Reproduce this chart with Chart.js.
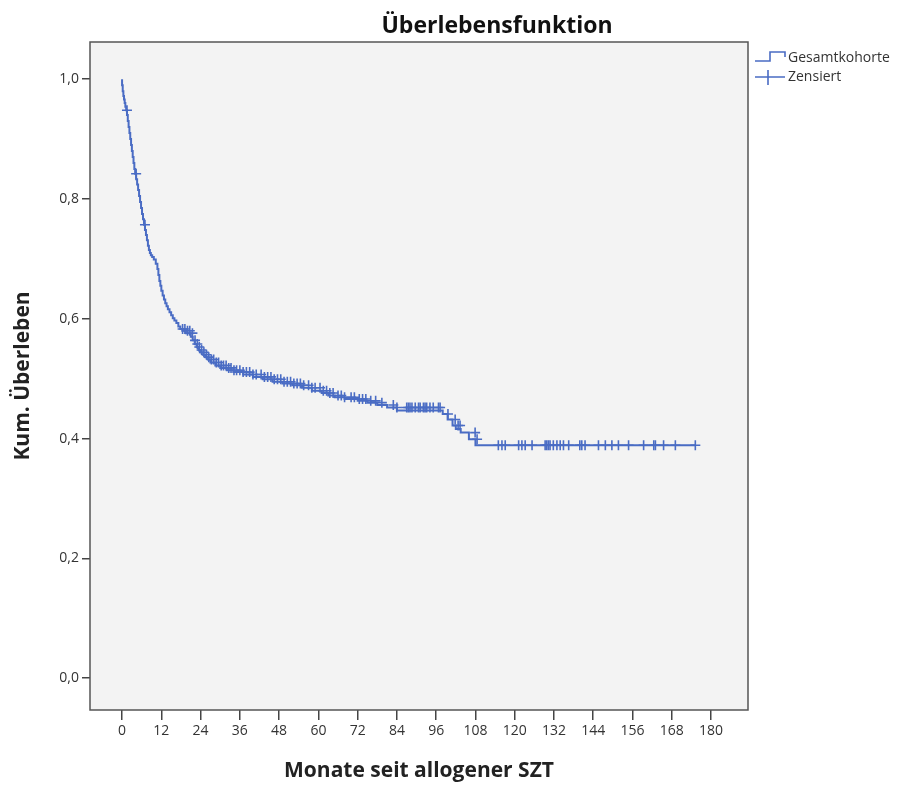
<!DOCTYPE html>
<html>
<head>
<meta charset="utf-8">
<script src="https://cdn.jsdelivr.net/npm/chart.js@4"></script>
<style>
  body { margin: 0; background: #fff; }
</style>
</head>
<body>
<canvas id="km" width="922" height="785"></canvas>
<script>
// Kaplan-Meier: Zeitpunkte (Monate) und Ueberleben nach jedem Schritt
var stepTimes = [0, 0.2, 0.4, 0.6, 0.8, 1.0, 1.25, 1.5, 1.75, 2.0, 2.25, 2.5, 2.75, 3.0, 3.25, 3.5, 3.75,
  4.0, 4.3, 4.6, 4.9, 5.2, 5.5, 5.8, 6.1, 6.4, 6.7, 7.0, 7.3, 7.6, 7.9, 8.2, 8.5, 8.8, 9.2, 9.7, 10.3,
  10.8, 11.1, 11.4, 11.7, 12.0, 12.4, 12.8, 13.2, 13.6, 14.0, 14.5, 15.0, 15.5, 16.0, 16.6, 17.2, 17.8,
  18.4, 19.5, 21.0, 21.6, 22.2, 22.8, 23.4, 24.0, 24.8, 25.5, 26.3, 27.0, 28.5, 30.0, 32.0, 34.0, 37.0,
  40.0, 43.0, 46.0, 49.0, 52.0, 55.0, 58.0, 61.0, 63.0, 65.0, 68.0, 72.0, 75.0, 78.0, 81.0, 84.0, 98.0,
  99.5, 101.0, 102.0, 103.5, 106.0, 108.0, 109.0, 175.2];
var stepSurv = [1.0, 0.99, 0.98, 0.972, 0.966, 0.96, 0.954, 0.948, 0.94, 0.93, 0.92, 0.91, 0.9, 0.89,
  0.88, 0.87, 0.86, 0.85, 0.842, 0.833, 0.824, 0.815, 0.805, 0.795, 0.785, 0.775, 0.766, 0.757, 0.748,
  0.74, 0.731, 0.722, 0.715, 0.71, 0.706, 0.703, 0.699, 0.692, 0.683, 0.673, 0.663, 0.655, 0.647, 0.639,
  0.632, 0.626, 0.621, 0.616, 0.611, 0.606, 0.601, 0.597, 0.593, 0.587, 0.583, 0.58, 0.576, 0.57, 0.564,
  0.558, 0.553, 0.548, 0.544, 0.54, 0.536, 0.532, 0.527, 0.522, 0.518, 0.514, 0.511, 0.507, 0.503, 0.499,
  0.495, 0.492, 0.489, 0.485, 0.48, 0.476, 0.472, 0.469, 0.466, 0.463, 0.46, 0.456, 0.452, 0.447, 0.441,
  0.432, 0.422, 0.416, 0.41, 0.399, 0.389, 0.389];

// zensierte Beobachtungen (Monate)
var censorTimes = [1.5, 4.3, 7.0,
  18.5, 19.2, 20, 20.7, 21.5, 22.3, 23, 23.6, 24.3, 25, 25.8, 26.5, 27.3, 28, 28.8, 29.5, 30.3, 31,
  31.8, 32.6, 33.3, 34.2, 35, 36, 37, 38, 39, 40, 41, 42.5, 43.5, 44.5, 45.5, 46.5, 47.5, 48.5, 49.5,
  50.5, 51.5, 52.5, 53.5, 54.5, 55.5, 57, 58, 59, 60.5, 61.5, 62.5, 63.5, 64.5, 66, 67, 68, 70, 71,
  72.5, 73.5, 74.5, 76, 77.5, 79.4, 82.9, 84, 87, 87.5, 88, 88.6, 89.6, 90.6, 91.1, 92.1, 92.6, 93.1,
  94.1, 95.1, 96.7, 97.2, 99.6, 101.8, 102.7, 103.3, 107.9, 108.5,
  115.0, 116.1, 117.1, 121.2, 122.2, 123.2, 125.3, 129.3, 129.8, 130.3, 130.8, 131.8, 132.9, 133.9,
  134.9, 136.5, 139.9, 140.5, 141.5, 145.6, 147.7, 149.7, 151.7, 154.8, 159.4, 162.5, 163.0, 165.5,
  169.1, 175.2];

var xTicks = [0, 12, 24, 36, 48, 60, 72, 84, 96, 108, 120, 132, 144, 156, 168, 180];
var yTicks = [0, 0.2, 0.4, 0.6, 0.8, 1.0];

var blue = "#4a6cc4";

function survAt(t) {
  var s = stepSurv[0];
  for (var i = 0; i < stepTimes.length; i++) {
    if (stepTimes[i] <= t) s = stepSurv[i];
  }
  return s;
}

var curve = stepTimes.map(function (t, i) {
  return { x: t, y: stepSurv[i] };
});
var censored = censorTimes.map(function (t) {
  return { x: t, y: survAt(t) };
});

Chart.defaults.font.family = '"Open Sans", sans-serif';
Chart.defaults.color = "#333";

// Hintergrund, Rahmen, Titel und Legende wie in der SPSS-Grafik
var spssFrame = {
  id: "spssFrame",
  beforeDraw: function (chart) {
    var ctx = chart.ctx, a = chart.chartArea;
    ctx.save();
    ctx.fillStyle = "#f3f3f3";
    ctx.fillRect(a.left, a.top, a.right - a.left, a.bottom - a.top);
    ctx.restore();
  },
  afterDraw: function (chart) {
    var ctx = chart.ctx, a = chart.chartArea;
    ctx.save();
    ctx.strokeStyle = "#555";
    ctx.lineWidth = 1.5;
    ctx.strokeRect(a.left, a.top, a.right - a.left, a.bottom - a.top);

    ctx.fillStyle = "#111";
    ctx.font = 'bold 23px "Open Sans", sans-serif';
    ctx.textAlign = "center";
    ctx.textBaseline = "middle";
    ctx.fillText("Überlebensfunktion", 497, 26);

    // Legende
    ctx.strokeStyle = blue;
    ctx.lineWidth = 1.6;
    ctx.beginPath();
    ctx.moveTo(755, 61);
    ctx.lineTo(770, 61);
    ctx.lineTo(770, 52);
    ctx.lineTo(785, 52);
    ctx.lineTo(785, 57);
    ctx.stroke();
    ctx.beginPath();
    ctx.moveTo(755, 77);
    ctx.lineTo(785, 77);
    ctx.moveTo(768, 70);
    ctx.lineTo(768, 85);
    ctx.stroke();

    ctx.fillStyle = "#333";
    ctx.font = '14px "Open Sans", sans-serif';
    ctx.textAlign = "left";
    ctx.fillText("Gesamtkohorte", 788, 58);
    ctx.fillText("Zensiert", 788, 77);
    ctx.restore();
  }
};

new Chart(document.getElementById("km"), {
  type: "scatter",
  data: {
    datasets: [
      {
        label: "Gesamtkohorte",
        data: curve,
        showLine: true,
        stepped: "after",
        borderColor: blue,
        backgroundColor: blue,
        borderWidth: 2,
        pointRadius: 0,
        fill: false
      },
      {
        label: "Zensiert",
        data: censored,
        showLine: false,
        pointStyle: "cross",
        pointRadius: 5,
        borderColor: blue,
        borderWidth: 1.6
      }
    ]
  },
  options: {
    responsive: false,
    animation: false,
    layout: { padding: { top: 42, right: 174, left: 0, bottom: 0 } },
    plugins: {
      legend: { display: false },
      tooltip: { enabled: false },
      title: { display: false }
    },
    scales: {
      x: {
        type: "linear",
        min: -9.8,
        max: 191.3,
        afterBuildTicks: function (s) {
          s.ticks = xTicks.map(function (v) { return { value: v }; });
        },
        afterFit: function (s) { s.height = 75; },
        grid: { drawOnChartArea: false, tickLength: 10, color: "#444", lineWidth: 1.5 },
        border: { display: false },
        ticks: { font: { size: 14 }, color: "#333", padding: 3, maxRotation: 0, autoSkip: false },
        title: {
          display: true,
          text: "Monate seit allogener SZT",
          font: { size: 21, weight: "bold" },
          color: "#222",
          padding: { top: 4, bottom: 1 }
        }
      },
      y: {
        type: "linear",
        min: -0.053,
        max: 1.062,
        afterBuildTicks: function (s) {
          s.ticks = yTicks.map(function (v) { return { value: v }; });
        },
        afterFit: function (s) { s.width = 90; },
        grid: { drawOnChartArea: false, tickLength: 8, color: "#444", lineWidth: 1.5 },
        border: { display: false },
        ticks: {
          font: { size: 14 },
          color: "#333",
          padding: 3,
          callback: function (v) { return v.toFixed(1).replace(".", ","); }
        },
        title: {
          display: true,
          text: "Kum. Überleben",
          font: { size: 21, weight: "bold" },
          color: "#222",
          padding: { top: 10, bottom: 4 }
        }
      }
    }
  },
  plugins: [spssFrame]
});
</script>
</body>
</html>
